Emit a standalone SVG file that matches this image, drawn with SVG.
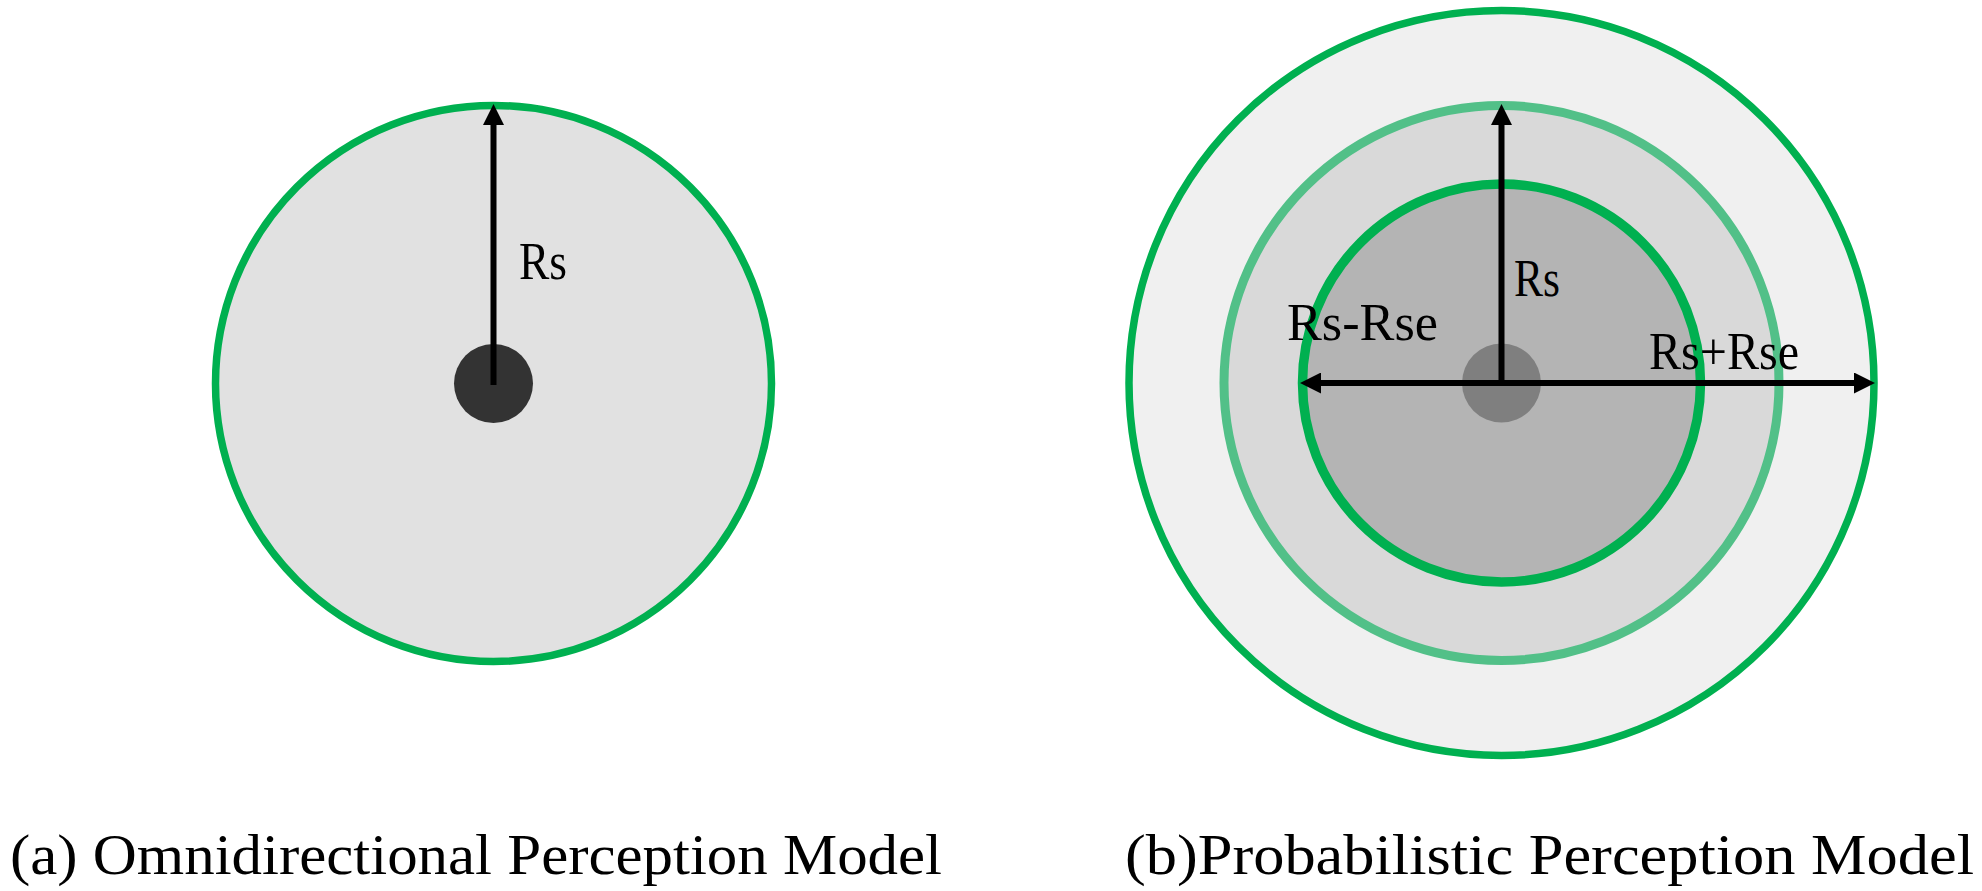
<svg xmlns="http://www.w3.org/2000/svg" width="1982" height="891" viewBox="0 0 1982 891">
<style>
.g{stroke:#00b050;}
.lbl{font-family:"Liberation Serif","Times New Roman",serif;font-size:52px;fill:#000;}
.cap{font-family:"Liberation Serif","Times New Roman",serif;font-size:56px;fill:#000;}
.arr{stroke:#000;stroke-width:6;fill:none;}
</style>
<defs>
<marker id="ah" markerUnits="userSpaceOnUse" viewBox="0 0 21 21" refX="0" refY="10.5" markerWidth="21" markerHeight="21" orient="auto-start-reverse">
<path d="M0,0 L21,10.5 L0,21 Z" fill="#000"/>
</marker>
</defs>
<rect width="1982" height="891" fill="#fff"/>
<g id="model-a">
<circle cx="493.5" cy="383.5" r="278" fill="#e1e1e1" class="g" stroke-width="7.5"/>
<circle cx="493.5" cy="383.5" r="39.5" fill="#333333"/>
</g>
<g id="model-b">
<circle id="outer" cx="1501.5" cy="383" r="372.5" fill="#f0f0f0" class="g" stroke-width="7.5"/>
<circle id="middle" cx="1501.5" cy="383" r="277.5" fill="#d9d9d9" stroke="#52c088" stroke-width="9"/>
<circle id="inner" cx="1501.5" cy="383" r="199" fill="#b4b4b4" class="g" stroke-width="9.5"/>
<circle id="dot-b" cx="1501.5" cy="383" r="39.5" fill="#7f7f7f"/>
</g>
<g id="connectors">
<line class="arr" x1="493.5" y1="385" x2="493.5" y2="125" marker-end="url(#ah)"/>
<line class="arr" x1="1501.5" y1="383" x2="1501.5" y2="125" marker-end="url(#ah)"/>
<line class="arr" x1="1321" y1="383" x2="1854" y2="383" marker-start="url(#ah)" marker-end="url(#ah)"/>
</g>
<g id="labels">
<text class="lbl" x="519" y="279" textLength="48" lengthAdjust="spacingAndGlyphs">Rs</text>
<text class="lbl" x="1514" y="296" textLength="46" lengthAdjust="spacingAndGlyphs">Rs</text>
<text class="lbl" x="1287" y="340" textLength="151" lengthAdjust="spacingAndGlyphs">Rs-Rse</text>
<text class="lbl" x="1649" y="369" textLength="150" lengthAdjust="spacingAndGlyphs">Rs+Rse</text>
<text class="cap" x="10" y="874" textLength="932" lengthAdjust="spacingAndGlyphs">(a) Omnidirectional Perception Model</text>
<text class="cap" x="1125" y="874" textLength="849" lengthAdjust="spacingAndGlyphs">(b)Probabilistic Perception Model</text>
</g>
</svg>
